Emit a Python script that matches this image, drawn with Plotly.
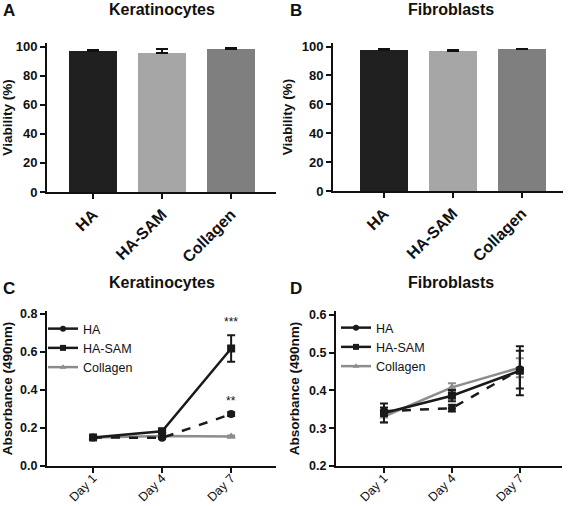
import plotly.graph_objects as go

W, H = 568, 506

groups = ["HA", "HA-SAM", "Collagen"]
bar_colors = ["#202020", "#a6a6a6", "#7f7f7f"]

viab_kera = [97.0, 95.3, 98.5]
viab_kera_err = [0.7, 2.8, 0.3]
viab_fibro = [97.7, 97.2, 98.2]
viab_fibro_err = [0.8, 0.6, 0.4]

days = ["Day 1", "Day 4", "Day 7"]
line_names = ["HA", "HA-SAM", "Collagen"]
line_colors = ["#1a1a1a", "#1a1a1a", "#8c8c8c"]
line_dash = ["dash", "solid", "solid"]
line_symbols = ["circle", "square", "triangle-up"]

abs_kera = [[0.150, 0.148, 0.273], [0.150, 0.183, 0.618], [0.150, 0.158, 0.155]]
abs_kera_err = [[0.006, 0.005, 0.010], [0.006, 0.010, 0.070], [0.005, 0.005, 0.005]]
abs_fibro = [[0.345, 0.353, 0.455], [0.340, 0.386, 0.452], [0.331, 0.408, 0.460]]
abs_fibro_err = [[0.010, 0.009, 0.050], [0.025, 0.015, 0.065], [0.015, 0.011, 0.025]]

sig_kera = ["**", "***"]

FONT = "Liberation Sans, Arial, sans-serif"


def px_x(p):
    return p / W


def px_y(p):
    return 1 - p / H


fig = go.Figure()

# Bars
for i, (vals, errs) in enumerate([(viab_kera, viab_kera_err), (viab_fibro, viab_fibro_err)]):
    ax = "" if i == 0 else "2"
    fig.add_trace(go.Bar(
        x=groups, y=vals, marker=dict(color=bar_colors, line=dict(width=0)),
        width=0.7,
        error_y=dict(type="data", array=errs, arrayminus=[0, 0, 0], symmetric=False,
                     color="#111111", thickness=2, width=6),
        xaxis="x" + ax, yaxis="y" + ax, showlegend=False,
    ))

# Lines
for panel, (data, errs, ax, lg) in enumerate([(abs_kera, abs_kera_err, "3", "legend"),
                                               (abs_fibro, abs_fibro_err, "4", "legend2")]):
    order = [2, 0, 1]
    for k in order:
        fig.add_trace(go.Scatter(
            x=days, y=data[k], mode="lines+markers",
            line=dict(color=line_colors[k], width=2.5, dash=line_dash[k]),
            marker=dict(symbol=line_symbols[k], size=8, color=line_colors[k]),
            error_y=dict(type="data", array=errs[k], color=line_colors[k], thickness=2, width=4),
            xaxis="x" + ax, yaxis="y" + ax, showlegend=False,
        ))
    for k in range(3):
        fig.add_trace(go.Scatter(
            x=[None], y=[None], mode="lines+markers", name=line_names[k],
            line=dict(color=line_colors[k], width=2.5),
            marker=dict(symbol=line_symbols[k], size=6, color=line_colors[k]),
            xaxis="x" + ax, yaxis="y" + ax, legend=lg, showlegend=True,
        ))

common_axis = dict(showline=True, linecolor="#111111", linewidth=2, ticks="outside",
                   tickcolor="#111111", tickwidth=2, ticklen=5, showgrid=False,
                   zeroline=False, mirror=False, automargin=False)

bar_xfont = dict(family=FONT, size=16, color="#111111", weight="bold")
day_font = dict(family=FONT, size=12.5, color="#111111")
ytick_font_a = dict(family=FONT, size=13, color="#111111", weight="bold")
ytick_font_c = dict(family=FONT, size=12.5, color="#111111", weight="bold")
ytitle_font = dict(family=FONT, size=13.5, color="#111111", weight="bold")

fig.update_layout(
    width=W, height=H, margin=dict(l=0, r=0, t=0, b=0),
    paper_bgcolor="white", plot_bgcolor="white",
    font=dict(family=FONT, color="#111111"),
    bargap=0,
    xaxis=dict(domain=[px_x(47), px_x(276)], range=[-0.667, 2.65], anchor="y",
               tickangle=-45, tickfont=bar_xfont, **common_axis),
    yaxis=dict(domain=[px_y(192), px_y(43)], range=[0, 102.5], anchor="x",
               tickvals=[0, 20, 40, 60, 80, 100], tickfont=ytick_font_a,
               title=dict(text="Viability (%)", font=ytitle_font, standoff=6), **common_axis),
    xaxis2=dict(domain=[px_x(333), px_x(563)], range=[-0.742, 2.6], anchor="y2",
                tickangle=-45, tickfont=bar_xfont, **common_axis),
    yaxis2=dict(domain=[px_y(191), px_y(43)], range=[0, 102.5], anchor="x2",
                tickvals=[0, 20, 40, 60, 80, 100], tickfont=ytick_font_a,
                title=dict(text="Viability (%)", font=ytitle_font, standoff=6), **common_axis),
    xaxis3=dict(domain=[px_x(47), px_x(276)], range=[-0.667, 2.65], anchor="y3",
                tickangle=-45, tickfont=day_font, ticklabelstandoff=-7, **common_axis),
    yaxis3=dict(domain=[px_y(466), px_y(311)], range=[0, 0.815], anchor="x3",
                tickvals=[0, 0.2, 0.4, 0.6, 0.8], tickformat=".1f", tickfont=ytick_font_c,
                title=dict(text="Absorbance (490nm)", font=ytitle_font, standoff=6), **common_axis),
    xaxis4=dict(domain=[px_x(336), px_x(562)], range=[-0.706, 2.62], anchor="y4",
                tickangle=-45, tickfont=day_font, ticklabelstandoff=-7, **common_axis),
    yaxis4=dict(domain=[px_y(466), px_y(311)], range=[0.2, 0.61], anchor="x4",
                tickvals=[0.2, 0.3, 0.4, 0.5, 0.6], tickformat=".1f", tickfont=ytick_font_c,
                title=dict(text="Absorbance (490nm)", font=ytitle_font, standoff=6), **common_axis),
    legend=dict(x=px_x(43), y=px_y(314), xanchor="left", yanchor="top",
                font=dict(family=FONT, size=12.5, color="#111111"),
                bgcolor="rgba(0,0,0,0)", tracegroupgap=0, itemwidth=30),
    legend2=dict(x=px_x(336), y=px_y(313), xanchor="left", yanchor="top",
                 font=dict(family=FONT, size=12.5, color="#111111"),
                 bgcolor="rgba(0,0,0,0)", tracegroupgap=0, itemwidth=30),
)

title_font = dict(family=FONT, size=16, color="#111111", weight="bold")
letter_font = dict(family=FONT, size=17, color="#111111", weight="bold")

annotations = [
    dict(text="Keratinocytes", x=px_x(162), y=px_y(9), font=title_font),
    dict(text="Fibroblasts", x=px_x(451), y=px_y(9), font=title_font),
    dict(text="Keratinocytes", x=px_x(162), y=px_y(282), font=title_font),
    dict(text="Fibroblasts", x=px_x(451), y=px_y(282), font=title_font),
    dict(text="A", x=px_x(9), y=px_y(11), font=letter_font),
    dict(text="B", x=px_x(296), y=px_y(11), font=letter_font),
    dict(text="C", x=px_x(9), y=px_y(288), font=letter_font),
    dict(text="D", x=px_x(296), y=px_y(288), font=letter_font),
]
for a in annotations:
    a.update(xref="paper", yref="paper", showarrow=False, xanchor="center", yanchor="middle")
    fig.add_annotation(**a)

# significance stars above Day 7 points
for k, s in zip([0, 1], sig_kera):
    top = abs_kera[k][2] + abs_kera_err[k][2]
    fig.add_annotation(x="Day 7", y=top, xref="x3", yref="y3", text=s, showarrow=False,
                       yanchor="bottom", yshift=2 if k == 0 else 4,
                       font=dict(family=FONT, size=12, color="#111111"))

fig.write_html("out.html", config={"displayModeBar": False},
               post_script="document.body.style.margin='0';document.body.style.overflow='hidden';")
